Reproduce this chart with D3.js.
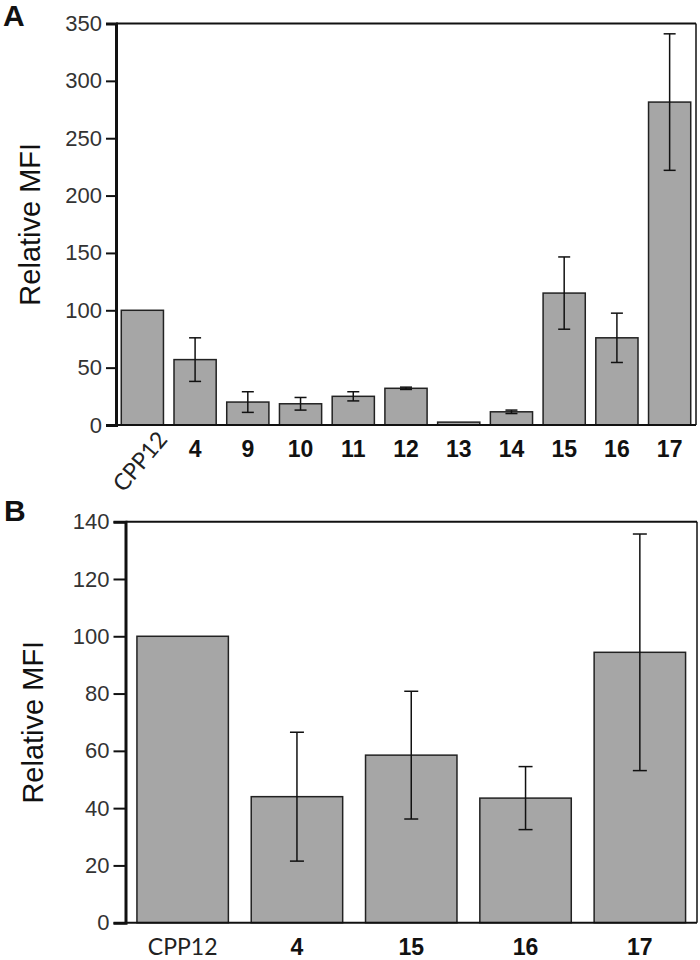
<!DOCTYPE html>
<html><head><meta charset="utf-8">
<script src="https://cdn.jsdelivr.net/npm/d3@7"></script>
<style>body{margin:0;background:#fff}svg{display:block}</style>
</head><body>
<svg id="chart" width="700" height="960"></svg>
<script>
// Panel A data
const catsA = ["CPP12","4","9","10","11","12","13","14","15","16","17"];
const valsA = [100, 57, 20, 18.5, 25, 32, 2.5, 11.5, 115, 76, 281.5];
const errsA = [0, 19, 9, 5.5, 4, 1, 0, 1.5, 31.5, 21.5, 59.5];
const ticksA = [0,50,100,150,200,250,300,350];
// Panel B data
const catsB = ["CPP12","4","15","16","17"];
const valsB = [100, 44, 58.5, 43.5, 94.4];
const errsB = [0, 22.5, 22.3, 11, 41.3];
const ticksB = [0,20,40,60,80,100,120,140];

const svg = d3.select("#chart");
const ARIAL = "Liberation Sans, Arial, sans-serif";
const CALIBRI = "Lato, 'Open Sans', sans-serif";

function panel(o){
  const x = d3.scaleBand().domain(o.cats).range([o.left,o.right]).paddingInner(0.2).paddingOuter(0.1);
  const y = d3.scaleLinear().domain([0,o.max]).range([o.bottom,o.top]);
  const g = svg.append("g");
  // bars
  g.selectAll("rect.bar").data(o.cats).enter().append("rect")
    .attr("x",d=>x(d)).attr("width",x.bandwidth())
    .attr("y",(d,i)=>y(o.vals[i])).attr("height",(d,i)=>y(0)-y(o.vals[i]))
    .attr("fill","#a6a6a6").attr("stroke","#222").attr("stroke-width",1.5);
  // error bars
  const eb = g.selectAll("g.err").data(o.cats.map((c,i)=>({c,v:o.vals[i],e:o.errs[i]})).filter(d=>d.e>0)).enter().append("g");
  const cx = d=>x(d.c)+x.bandwidth()/2;
  eb.append("line").attr("x1",cx).attr("x2",cx)
    .attr("y1",d=>y(d.v+d.e)).attr("y2",d=>y(d.v-d.e)).attr("stroke","#111").attr("stroke-width",1.5);
  [1,-1].forEach(s=>{
    eb.append("line").attr("x1",d=>cx(d)-o.cap).attr("x2",d=>cx(d)+o.cap)
      .attr("y1",d=>y(d.v+s*d.e)).attr("y2",d=>y(d.v+s*d.e)).attr("stroke","#111").attr("stroke-width",1.5);
  });
  // frame top and right
  g.append("line").attr("x1",o.left).attr("x2",o.right).attr("y1",y(o.max)).attr("y2",y(o.max)).attr("stroke","#111").attr("stroke-width",2);
  g.append("line").attr("x1",o.right).attr("x2",o.right).attr("y1",y(o.max)).attr("y2",y(0)).attr("stroke","#111").attr("stroke-width",1.5);
  // y axis
  const ya = g.append("g").attr("transform",`translate(${o.left},0)`)
    .call(d3.axisLeft(y).tickValues(o.ticks).tickSize(o.tick).tickPadding(4).tickFormat(d3.format("d")));
  ya.select(".domain").attr("stroke","#111").attr("stroke-width",3);
  ya.selectAll(".tick line").attr("stroke","#111").attr("stroke-width",2);
  ya.selectAll("text").attr("font-family",ARIAL).attr("font-size",22).attr("fill","#333");
  // x axis baseline
  g.append("line").attr("x1",o.left).attr("x2",o.right).attr("y1",y(0)).attr("y2",y(0)).attr("stroke","#111").attr("stroke-width",2);
  // x labels
  const xa = g.append("g").attr("transform",`translate(0,${y(0)})`)
    .call(d3.axisBottom(x).tickSize(0));
  xa.select(".domain").remove();
  xa.selectAll("text").attr("font-family",ARIAL).attr("font-size",23).attr("dy",0).attr("y",o.labY)
    .attr("fill","#111").attr("font-weight","bold");
  const first = xa.selectAll(".tick").filter(d=>d==="CPP12").select("text")
    .attr("font-weight","normal").attr("font-family",CALIBRI).attr("fill","#222");
  if(o.rotateFirst){
    first.attr("text-anchor","end").attr("y",0).attr("font-size",23)
      .attr("transform",`translate(${x.bandwidth()/2+5},15) rotate(-50)`);
  } else {
    first.attr("font-size",23);
  }
  // y title
  g.append("text").attr("transform",`translate(${o.titleX},${(y(0)+y(o.max))/2}) rotate(-90)`)
    .attr("text-anchor","middle").attr("font-family",ARIAL)
    .attr("font-size",29).attr("fill","#111").text("Relative MFI");
  // panel letter
  g.append("text").attr("x",o.letterX).attr("y",o.letterY).attr("font-family",ARIAL)
    .attr("font-weight","bold").attr("font-size",o.letterSize).attr("fill","#111").text(o.letter);
}

panel({cats:catsA,vals:valsA,errs:errsA,ticks:ticksA,max:350,left:116,right:696,top:23.5,bottom:425,
  cap:6,tick:10,labY:32,rotateFirst:true,titleX:40,letter:"A",letterX:3,letterY:26,letterSize:30});
panel({cats:catsB,vals:valsB,errs:errsB,ticks:ticksB,max:140,left:125.5,right:697,top:521.7,bottom:922.7,
  cap:7,tick:12,labY:32,rotateFirst:false,titleX:43,letter:"B",letterX:4,letterY:521,letterSize:30});
</script>
</body></html>
